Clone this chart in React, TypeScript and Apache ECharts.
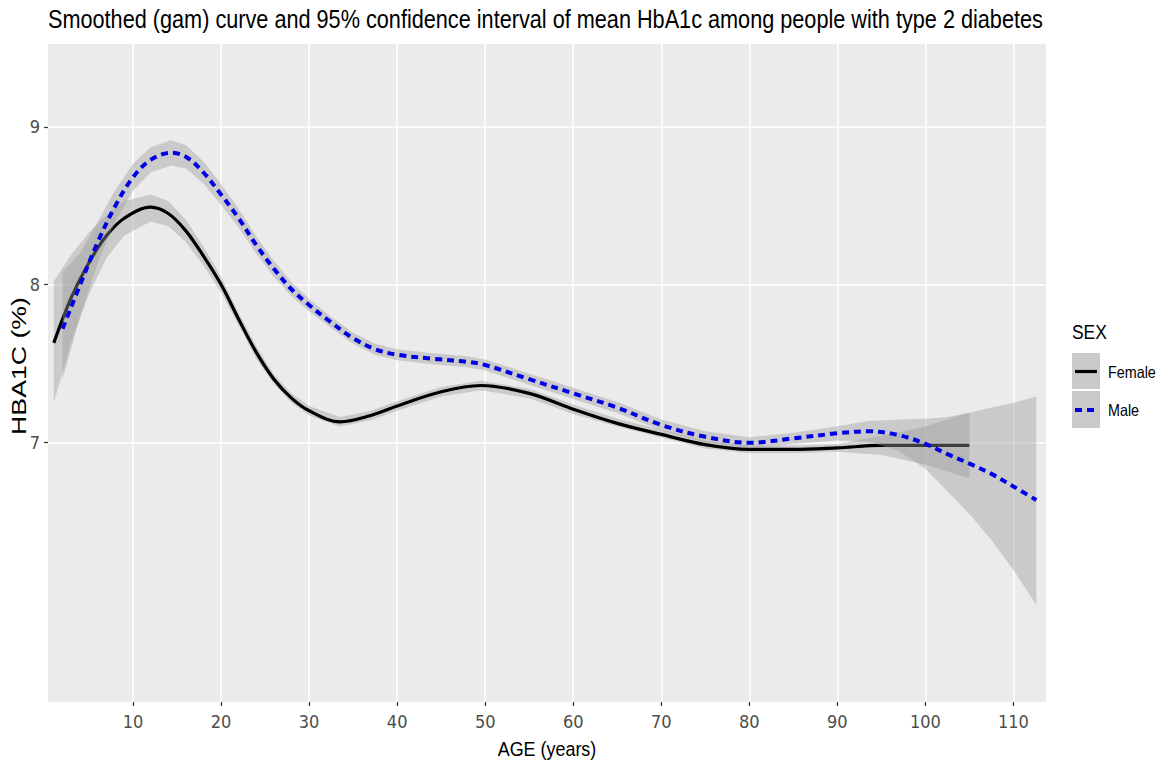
import React, { useEffect, useRef } from "react";
import * as echarts from "echarts";

// ---- Data ----
const xTicks = [10, 20, 30, 40, 50, 60, 70, 80, 90, 100, 110];
const yTicks = [7, 8, 9];

const ageFemale = [1, 3, 5, 7, 9, 12, 14, 16, 18, 20, 22, 24, 26, 28, 30, 33.5, 37, 40, 45, 49.5, 55, 60, 65, 70, 75, 80, 85, 90, 95, 100, 105];
const fitFemale = [7.63, 7.92, 8.14, 8.31, 8.42, 8.49, 8.45, 8.34, 8.18, 8.0, 7.78, 7.57, 7.4, 7.28, 7.2, 7.13, 7.17, 7.23, 7.32, 7.36, 7.31, 7.21, 7.12, 7.05, 6.985, 6.955, 6.955, 6.965, 6.98, 6.98, 6.98];
const loFemale = [7.25, 7.64, 7.94, 8.17, 8.31, 8.4, 8.37, 8.27, 8.12, 7.95, 7.74, 7.53, 7.37, 7.25, 7.17, 7.1, 7.14, 7.2, 7.29, 7.33, 7.28, 7.18, 7.1, 7.03, 6.96, 6.93, 6.93, 6.94, 6.92, 6.86, 6.77];
const hiFemale = [8.02, 8.19, 8.33, 8.44, 8.53, 8.57, 8.53, 8.41, 8.24, 8.05, 7.82, 7.61, 7.43, 7.31, 7.23, 7.16, 7.2, 7.26, 7.35, 7.39, 7.34, 7.24, 7.15, 7.08, 7.01, 6.98, 6.98, 6.99, 7.04, 7.1, 7.19];

const ageMale = [2, 4, 6, 8, 10, 12, 14.3, 16, 18, 20, 22, 24, 26, 28, 30, 32.5, 35, 37.5, 40, 44, 48, 50, 55, 60, 65, 70, 75, 80, 85, 90, 93.5, 97, 100, 102.5, 105, 107.5, 110, 112.6];
const fitMale = [7.72, 8.0, 8.27, 8.5, 8.68, 8.79, 8.835, 8.81, 8.71, 8.57, 8.42, 8.25, 8.1, 7.97, 7.87, 7.76, 7.66, 7.59, 7.555, 7.53, 7.51, 7.49, 7.4, 7.31, 7.22, 7.11, 7.035, 6.997, 7.025, 7.057, 7.07, 7.045, 6.99, 6.925, 6.865, 6.8, 6.72, 6.634];
const loMale = [7.4, 7.8, 8.14, 8.4, 8.595, 8.71, 8.755, 8.735, 8.64, 8.505, 8.36, 8.195, 8.05, 7.925, 7.83, 7.725, 7.625, 7.555, 7.52, 7.495, 7.475, 7.455, 7.365, 7.275, 7.185, 7.075, 7.0, 6.962, 6.99, 7.012, 7.005, 6.945, 6.83, 6.69, 6.545, 6.38, 6.19, 5.97];
const hiMale = [8.08, 8.2, 8.4, 8.6, 8.765, 8.87, 8.915, 8.885, 8.78, 8.635, 8.48, 8.305, 8.15, 8.015, 7.91, 7.795, 7.695, 7.625, 7.59, 7.565, 7.545, 7.525, 7.435, 7.345, 7.255, 7.145, 7.07, 7.032, 7.06, 7.102, 7.135, 7.145, 7.15, 7.16, 7.185, 7.22, 7.25, 7.29];

const TITLE = "Smoothed (gam) curve and 95% confidence interval of mean HbA1c among people with type 2 diabetes";
const FONT = "'Liberation Sans', Arial, Helvetica, sans-serif";
const NARROW = "'Liberation Sans Narrow', 'Arial Narrow', 'DejaVu Sans Condensed', sans-serif";
const RIBBON = "rgba(153,153,153,0.4)";
const BLUE = "#0000e6";

function bandSeries(name: string, ages: number[], lo: number[], hi: number[], z: number) {
  return {
    name,
    type: "custom",
    z,
    silent: true,
    clip: true,
    data: ages.map((a, i) => [a, lo[i], hi[i]]),
    encode: { x: 0, y: [1, 2] },
    renderItem: (params: any, api: any) => {
      if (params.dataIndex !== 0) return null;
      const upper = ages.map((a, i) => api.coord([a, hi[i]]));
      const lower = ages.map((a, i) => api.coord([a, lo[i]])).reverse();
      return {
        type: "polygon",
        shape: { points: upper.concat(lower) },
        style: { fill: RIBBON },
      };
    },
  };
}

function txt(text: string, x: number, y: number, size: number, opts: any = {}) {
  return {
    type: "text",
    x,
    y,
    rotation: opts.rotation || 0,
    scaleX: opts.scaleX || 1,
    silent: true,
    style: {
      text,
      fontSize: size,
      fontFamily: FONT,
      fill: opts.fill || "#000",
      align: opts.align || "left",
      textAlign: opts.align || "left",
      verticalAlign: "middle",
      textVerticalAlign: "middle",
    },
  };
}

export default function App() {
  const ref = useRef<HTMLDivElement>(null);
  useEffect(() => {
    if (!ref.current) return;
    const chart = echarts.init(ref.current, undefined, { renderer: "svg" });
    const option: any = {
      animation: false,
      backgroundColor: "#ffffff",
      grid: { left: 48, right: 112, top: 44, bottom: 60, show: true, backgroundColor: "#ebebeb", borderWidth: 0 },
      xAxis: {
        type: "value",
        min: 0.34,
        max: 113.7,
        axisLine: { show: false },
        axisTick: { show: true, length: 4, lineStyle: { color: "#333333", width: 1.2 }, customValues: xTicks },
        axisLabel: { show: true, customValues: xTicks, color: "#4d4d4d", fontSize: 18, fontFamily: NARROW, margin: 10 },
        splitLine: { show: true, lineStyle: { color: "#ffffff", width: 1.6 } },
      },
      yAxis: {
        type: "value",
        min: 5.354,
        max: 9.5245,
        axisLine: { show: false },
        axisTick: { show: true, length: 4, lineStyle: { color: "#333333", width: 1.2 }, customValues: yTicks },
        axisLabel: { show: true, customValues: yTicks, color: "#4d4d4d", fontSize: 18, fontFamily: NARROW, margin: 8 },
        splitLine: { show: true, lineStyle: { color: "#ffffff", width: 1.6 } },
      },
      series: [
        bandSeries("Female CI", ageFemale, loFemale, hiFemale, 1),
        {
          name: "Female",
          type: "line",
          z: 2,
          data: ageFemale.map((a, i) => [a, fitFemale[i]]),
          showSymbol: false,
          smooth: 0.35,
          silent: true,
          lineStyle: { color: "#000000", width: 3.2 },
        },
        bandSeries("Male CI", ageMale, loMale, hiMale, 3),
        {
          name: "Male",
          type: "line",
          z: 4,
          data: ageMale.map((a, i) => [a, fitMale[i]]),
          showSymbol: false,
          smooth: 0.35,
          silent: true,
          lineStyle: { color: BLUE, width: 4, type: [7, 5], cap: "butt" },
        },
      ],
      graphic: [
        txt(TITLE, 48, 19, 25.5, { scaleX: 0.85 }),
        txt("AGE (years)", 547, 749, 19.5, { align: "center", scaleX: 0.92 }),
        txt("HBA1C (%)", 19, 366, 21, { align: "center", rotation: Math.PI / 2, scaleX: 1.27 }),
        // legend
        txt("SEX", 1072, 332, 21, { scaleX: 0.83 }),
        { type: "rect", shape: { x: 1072, y: 353, width: 28, height: 36 }, style: { fill: "#ebebeb" }, silent: true },
        { type: "rect", shape: { x: 1072, y: 353, width: 28, height: 36 }, style: { fill: RIBBON }, silent: true },
        { type: "rect", shape: { x: 1072, y: 391, width: 28, height: 37 }, style: { fill: "#ebebeb" }, silent: true },
        { type: "rect", shape: { x: 1072, y: 391, width: 28, height: 37 }, style: { fill: RIBBON }, silent: true },
        { type: "line", shape: { x1: 1075, y1: 371.5, x2: 1097, y2: 371.5 }, style: { stroke: "#000", lineWidth: 3.2 }, silent: true },
        { type: "line", shape: { x1: 1075, y1: 410, x2: 1097, y2: 410 }, style: { stroke: BLUE, lineWidth: 4, lineDash: [7, 5] }, silent: true },
        txt("Female", 1108, 372, 16.5, { scaleX: 0.87 }),
        txt("Male", 1108, 410, 16.5, { scaleX: 0.87 }),
      ],
    };
    chart.setOption(option);
    return () => chart.dispose();
  }, []);
  return (
    <div
      ref={ref}
      style={{ position: "fixed", left: 0, top: 0, width: 1158, height: 762, background: "#fff" }}
    />
  );
}
